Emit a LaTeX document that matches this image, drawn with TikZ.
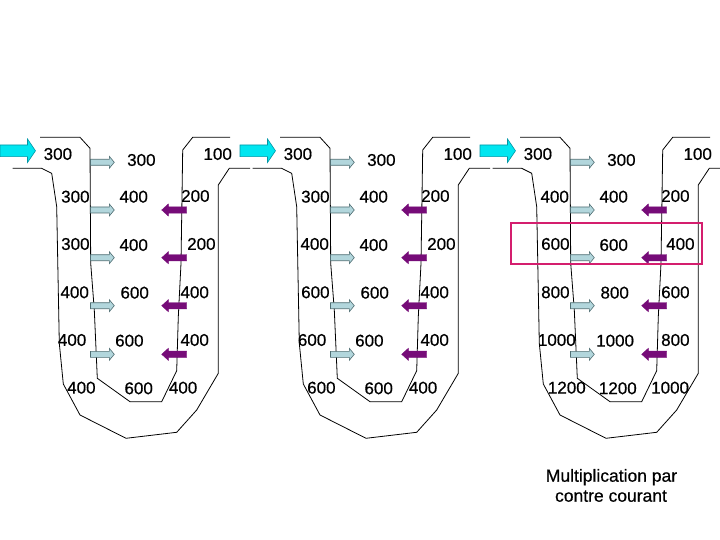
\documentclass[tikz,border=0pt]{standalone}
\usepackage{fontspec}
\setmainfont{Liberation Sans}[FakeBold=0.6]
\definecolor{cyanA}{RGB}{0,230,240}
\definecolor{cyanB}{RGB}{0,150,165}
\definecolor{lbA}{RGB}{178,214,220}
\definecolor{lbB}{RGB}{80,110,115}
\definecolor{purp}{RGB}{118,12,120}
\definecolor{boxc}{RGB}{212,30,110}
\begin{document}
\begin{tikzpicture}[x=1pt,y=-1pt,
  lab/.style={anchor=west,inner sep=0pt,font=\fontsize{17}{20}\selectfont\addfontfeature{FakeBold=0.6}},
  captext/.style={anchor=base,inner sep=0pt,font=\fontsize{17.5}{20}\selectfont\addfontfeature{FakeBold=0.6}},
  outl/.style={draw=black,line width=0.8pt},
  inflow/.style={fill=cyanA,draw=cyanB,line width=0.6pt},
  pumpin/.style={fill=lbA,draw=lbB,line width=0.6pt},
  pumpout/.style={fill=purp,draw=purp,line width=0.4pt},
  hilite/.style={draw=boxc,line width=2.3pt}]
\useasboundingbox (0,0) rectangle (720,540);
\fill[white] (0,0) rectangle (720,540);
\foreach \p in {0,240,480}{
  \begin{scope}[xshift=\p pt]
    % inner tube
    \draw[outl] (40,137.3) -- (80,137.3) -- (90,148.3) -- (90.7,263.3) -- (94.3,310)
      -- (97.3,378.3) -- (130,401.7) -- (161.7,401.7) -- (176.7,370.7) -- (178.3,316.7)
      -- (181,263.3) -- (182.7,150) -- (192.7,137.3) -- (230,137.3);
    % outer tube
    \draw[outl] (12.7,168.3) -- (41.7,168.3) -- (51.7,173.3) -- (56.7,206.7) -- (59.3,343.3)
      -- (63.3,384) -- (80,415) -- (126,438.3) -- (176.7,432.3) -- (196.7,410)
      -- (218.3,373.3) -- (218.3,185) -- (229.3,168.3) -- (250,168.3);
    % inflow arrow
    \filldraw[inflow] (0,145) -- (27.5,145) -- (27.5,139) -- (35.5,150.8) -- (27.5,162.5)
      -- (27.5,156.7) -- (0,156.7) -- cycle;
    % light blue arrows
    \foreach \c in {162.3,210,257.7,305.7,354.3}{
      \filldraw[pumpin] (90.5,\c-3) -- (109.3,\c-3) -- (109.3,\c-6) -- (114.3,\c)
        -- (109.3,\c+6) -- (109.3,\c+3) -- (90.5,\c+3) -- cycle;
    }
    % purple arrows
    \foreach \c in {210,257.7,305.7,354.3}{
      \filldraw[pumpout] (186.7,\c-3.2) -- (168.3,\c-3.2) -- (168.3,\c-6) -- (161.7,\c)
        -- (168.3,\c+6) -- (168.3,\c+3.2) -- (186.7,\c+3.2) -- cycle;
    }
  \end{scope}
}
% panel 1 labels
\node[lab] (a0l) at (43.5,154) {300};
\node[lab] (a0m) at (127,160) {300};
\node[lab] (a0r) at (203.3,154) {100};
\node[lab] (a1l) at (61,196.7) {300};
\node[lab] (a1m) at (119.3,196.7) {400};
\node[lab] (a1r) at (181,196) {200};
\node[lab] (a2l) at (61,244) {300};
\node[lab] (a2m) at (119.3,245) {400};
\node[lab] (a2r) at (187,244) {200};
\node[lab] (a3l) at (60.3,292.3) {400};
\node[lab] (a3m) at (120.3,292.7) {600};
\node[lab] (a3r) at (180.3,292.3) {400};
\node[lab] (a4l) at (57.7,340) {400};
\node[lab] (a4m) at (115,340.7) {600};
\node[lab] (a4r) at (180.3,340) {400};
\node[lab] (a5l) at (67,387.7) {400};
\node[lab] (a5m) at (124.3,388.3) {600};
\node[lab] (a5r) at (168.7,387.7) {400};
% panel 2 labels
\begin{scope}[xshift=240pt]
\node[lab] (b0l) at (43.5,154) {300};
\node[lab] (b0m) at (127,160) {300};
\node[lab] (b0r) at (203.3,154) {100};
\node[lab] (b1l) at (61,196.7) {300};
\node[lab] (b1m) at (119.3,196.7) {400};
\node[lab] (b1r) at (181,196) {200};
\node[lab] (b2l) at (60.3,244) {400};
\node[lab] (b2m) at (119.3,245) {400};
\node[lab] (b2r) at (187,244) {200};
\node[lab] (b3l) at (61,292.3) {600};
\node[lab] (b3m) at (120.3,292.7) {600};
\node[lab] (b3r) at (180.3,292.3) {400};
\node[lab] (b4l) at (57.7,340) {600};
\node[lab] (b4m) at (115,340.7) {600};
\node[lab] (b4r) at (180.3,340) {400};
\node[lab] (b5l) at (67,387.7) {600};
\node[lab] (b5m) at (124.3,388.3) {600};
\node[lab] (b5r) at (168.7,387.7) {400};
\end{scope}
% panel 3 labels
\begin{scope}[xshift=480pt]
\node[lab] (c0l) at (43.5,154) {300};
\node[lab] (c0m) at (127,160) {300};
\node[lab] (c0r) at (203.3,154) {100};
\node[lab] (c1l) at (60.3,196.7) {400};
\node[lab] (c1m) at (119.3,196.7) {400};
\node[lab] (c1r) at (181,196) {200};
\node[lab] (c2l) at (61,244) {600};
\node[lab] (c2m) at (119.3,245) {600};
\node[lab] (c2r) at (186,244) {400};
\node[lab] (c3l) at (61,292.3) {800};
\node[lab] (c3m) at (120.3,292.7) {800};
\node[lab] (c3r) at (181,292.3) {600};
\node[lab] (c4l) at (57.7,340) {1000};
\node[lab] (c4m) at (116,340.7) {1000};
\node[lab] (c4r) at (181,340) {800};
\node[lab] (c5l) at (67.7,387.7) {1200};
\node[lab] (c5m) at (118.7,388.3) {1200};
\node[lab] (c5r) at (171,387.7) {1000};
\end{scope}
% highlight box
\draw[hilite] (511,223.3) rectangle (702.3,264.3);
% caption
\node[captext] (cap1) at (611.5,481.7) {Multiplication par};
\node[captext] (cap2) at (611,501.7) {contre courant};
\end{tikzpicture}
\end{document}
